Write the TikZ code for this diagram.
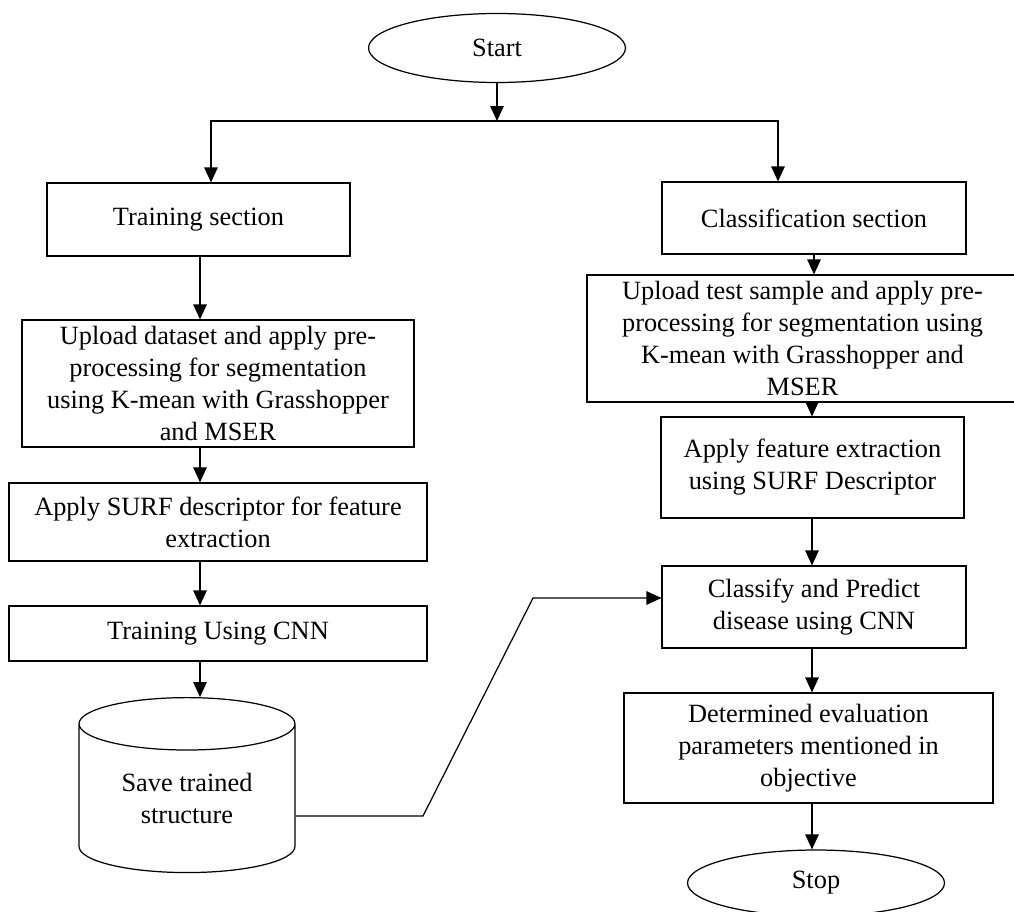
\documentclass[tikz,border=0pt]{standalone}
\usepackage{fontspec}
\setmainfont{Liberation Serif}
\usetikzlibrary{shapes.geometric,arrows.meta}
\begin{document}
\begin{tikzpicture}[x=0.02cm, y=-0.02cm, line width=0.7pt,
          font=\fontsize{15}{18.2}\selectfont,
          >={Triangle[length=3mm, width=2.7mm]},
          box/.style={draw, align=center, inner sep=0pt},
          term/.style={draw, ellipse, inner sep=0pt, minimum width=5.14cm},
          store/.style={draw, cylinder, shape border rotate=90, aspect=0.4, align=center,
                        minimum width=4.32cm, minimum height=3.5cm, inner sep=0pt},
          arr/.style={->}]
        \useasboundingbox (0,0) rectangle (1014,912);
        \node[term, minimum height=1.38cm] (st) at (497,48) {Start};
        \node[box, minimum width=6.06cm, minimum height=1.46cm] (tr) at (198.5,219.5) {Training section};
        \node[box, minimum width=6.08cm, minimum height=1.44cm] (cs) at (814,218) {Classification section};
        \node[box, minimum width=7.84cm, minimum height=2.54cm] (up1) at (218,383.5)
             {Upload dataset and apply pre-\\processing for segmentation\\using K-mean with Grasshopper\\and MSER};
        \node[box, minimum width=8.62cm, minimum height=2.54cm] (up2) at (802.5,338.5)
             {Upload test sample and apply pre-\\processing for segmentation using\\K-mean with Grasshopper and\\MSER};
        \node[box, minimum width=6.06cm, minimum height=2.02cm] (fx) at (812.5,467.5)
             {Apply feature extraction\\using SURF Descriptor};
        \node[box, minimum width=8.36cm, minimum height=1.56cm] (sf) at (218,522)
             {Apply SURF descriptor for feature\\extraction};
        \node[box, minimum width=8.36cm, minimum height=1.1cm] (cn) at (218,633.5) {Training Using CNN};
        \node[store] (db) at (187,798.5) {Save trained\\structure};
        \node[box, minimum width=6.08cm, minimum height=1.64cm] (cp) at (814,607)
             {Classify and Predict\\disease using CNN};
        \node[box, minimum width=7.38cm, minimum height=2.2cm] (ev) at (808.5,748)
             {Determined evaluation\\parameters mentioned in\\objective};
        \node[term, minimum height=1.32cm] (sp) at (816,883) {Stop};
        \coordinate (fk) at (497,121);
        \coordinate (fl) at (211,121);
        \coordinate (fr) at (778,121);
        \coordinate (lx) at (200,0);
        \coordinate (rx) at (812,0);
        \coordinate (b1) at (423,816);
        \coordinate (b2) at (533,598);
        \draw[arr] (st) -- (fk);
        \draw[arr] (fk) -| (tr.north -| fl);
        \draw[arr] (fk) -| (cs.north -| fr);
        \draw[arr] (tr.south -| lx) -- (up1.north -| lx);
        \draw[arr] (up1.south -| lx) -- (sf.north -| lx);
        \draw[arr] (sf.south -| lx) -- (cn.north -| lx);
        \draw[arr] (cn.south -| lx) -- (db.north -| lx);
        \draw[arr] (cs.south) -- (up2.north -| cs.south);
        \draw[arr] (up2.south -| rx) -- (fx.north -| rx);
        \draw[arr] (fx.south -| rx) -- (cp.north -| rx);
        \draw[arr] (cp.south -| rx) -- (ev.north -| rx);
        \draw[arr] (ev.south -| rx) -- (sp.north -| rx);
        \draw[arr] (db.east |- b1) -- (b1) -- (b2) -- (b2 -| cp.west);
      \end{tikzpicture}
\end{document}
